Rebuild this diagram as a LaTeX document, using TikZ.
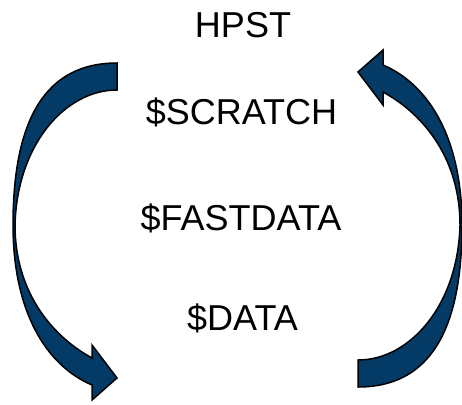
\documentclass[tikz,border=0pt]{standalone}
\usepackage{fontspec}
\setmainfont{Liberation Sans}
\definecolor{navy}{RGB}{4,58,102}
\tikzset{
  cyclearrow/.style={fill=navy, draw=black, line width=1.5pt, line join=miter},
  label/.style={font=\fontsize{36}{43}\selectfont, inner sep=0pt, anchor=base}
}
% outline of one curved arrow: tail at top right, head at bottom right
\newcommand\curvedarrowoutline{%
  (117,63) .. controls (45,63) and (13,120) .. (13,225)
           .. controls (13,310) and (45,365) .. (92,385)
  -- (92,400) -- (117,378) -- (92,345) -- (92,358)
           .. controls (50,335) and (15,290) .. (15,225)
           .. controls (17,145) and (65,90) .. (117,90)
  -- cycle}
\begin{document}
\begin{tikzpicture}[x=1pt, y=-1pt]
  \useasboundingbox (0,0) rectangle (462,404);
  % left arrow (downwards) and its point reflection (upwards)
  \draw[cyclearrow] \curvedarrowoutline;
  \begin{scope}[rotate around={180:(237.5,225)}]
    \draw[cyclearrow] \curvedarrowoutline;
  \end{scope}
  % storage tiers
  \node[label] (hpst)     at (243,37.3) {HPST};
  \node[label] (scratch)  at (241.5,124) {\$SCRATCH};
  \node[label] (fastdata) at (241,230) {\$FASTDATA};
  \node[label] (data)     at (242.5,330) {\$DATA};
\end{tikzpicture}
\end{document}
